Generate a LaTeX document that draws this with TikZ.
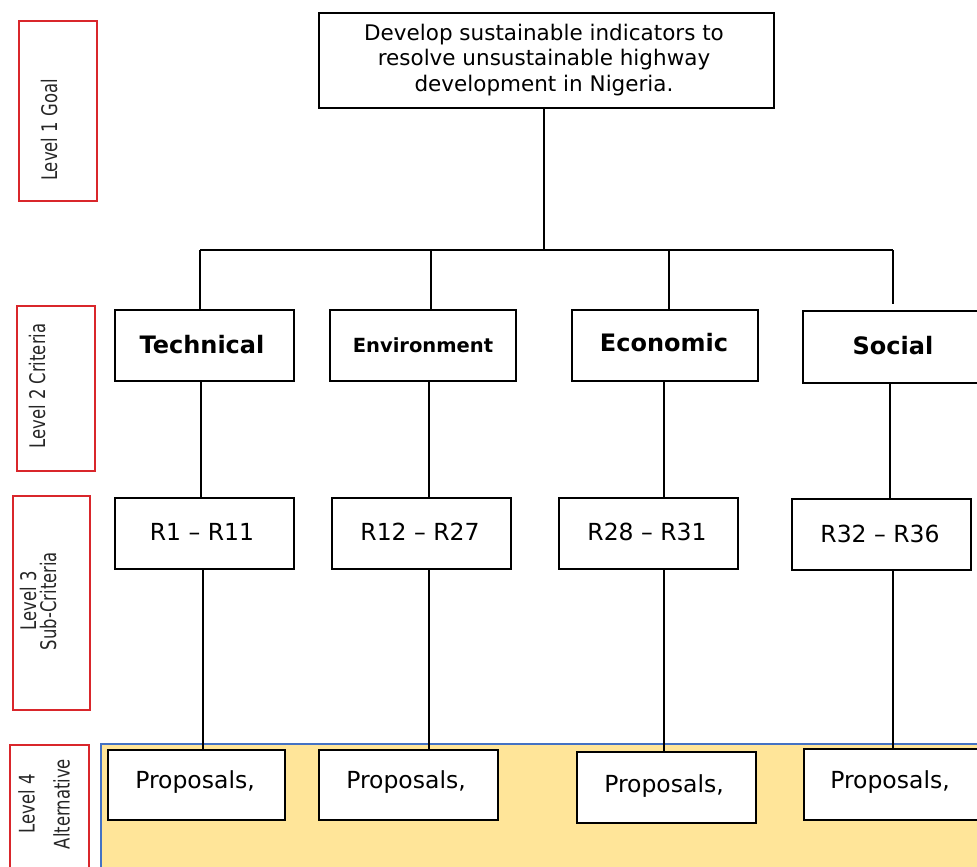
\documentclass[tikz,border=0pt]{standalone}
\usepackage{fontspec}
\setmainfont{DejaVu Sans}
\newfontfamily\condfont[FakeStretch=0.85]{DejaVu Sans Condensed}
\usetikzlibrary{positioning}
\definecolor{lvlred}{HTML}{D9262B}
\definecolor{altfill}{HTML}{FFE599}
\definecolor{altedge}{HTML}{4472C4}
\tikzset{
  box/.style={draw=black, line width=1.7pt, fill=white, inner sep=0pt, anchor=north west},
  levelbox/.style={draw=lvlred, line width=2pt, inner sep=0pt, anchor=north west},
  leveltext/.style={rotate=90, font=\condfont\fontsize{21.5}{20}\selectfont, align=center, text=black!85},
  link/.style={draw=black, line width=1.7pt},
  crit/.style={font=\bfseries\fontsize{24}{28}\selectfont},
  sub/.style={font=\fontsize{23.5}{28}\selectfont},
}
\begin{document}
\begin{tikzpicture}[x=1pt, y=-1pt]
\useasboundingbox (0,0) rectangle (977,867);

% alternatives band
\fill[altfill] (101,744) rectangle (980,870);
\draw[altedge, line width=1.5pt] (101,870) -- (101,744) -- (980,744);

% level labels
\node[levelbox, minimum width=78pt, minimum height=180pt] (L1) at (18,20) {};
\node[leveltext] at (49,130) {Level 1 Goal};
\node[levelbox, minimum width=78pt, minimum height=165pt] (L2) at (16,305) {};
\node[leveltext] at (37,386) {Level 2 Criteria};
\node[levelbox, minimum width=77pt, minimum height=214pt] (L3) at (12,495) {};
\node[leveltext, font=\condfont\fontsize{21.5}{20}\selectfont] at (38,601) {Level 3\\Sub-Criteria};
\node[levelbox, minimum width=79pt, minimum height=130pt] (L4) at (9,744) {};
\node[leveltext, font=\condfont\fontsize{21.5}{35}\selectfont] at (44,804) {Level 4\\Alternative};

% goal
\node[box, minimum width=455pt, minimum height=95pt] (goal) at (318,12) {};
\node[align=center, font=\fontsize{21.5}{25.5}\selectfont] at (544,60)
  {Develop sustainable indicators to\\resolve unsustainable highway\\development in Nigeria.};

% criteria
\node[box, minimum width=179pt, minimum height=71pt] (tech) at (114,309) {};
\node[crit] at (202,345) {Technical};
\node[box, minimum width=186pt, minimum height=71pt] (env) at (329,309) {};
\node[font=\bfseries\fontsize{19.5}{23}\selectfont] at (423,345) {Environment};
\node[box, minimum width=186pt, minimum height=71pt] (eco) at (571,309) {};
\node[crit] at (664,343) {Economic};
\node[box, minimum width=180pt, minimum height=72pt] (soc) at (802,310) {};
\node[crit] at (893,346) {Social};

% sub-criteria
\node[box, minimum width=179pt, minimum height=71pt] (r1) at (114,497) {};
\node[sub] at (202,532) {R1 -- R11};
\node[box, minimum width=179pt, minimum height=71pt] (r2) at (331,497) {};
\node[sub] at (420,532) {R12 -- R27};
\node[box, minimum width=179pt, minimum height=71pt] (r3) at (558,497) {};
\node[sub] at (647,532) {R28 -- R31};
\node[box, minimum width=179pt, minimum height=71pt] (r4) at (791,498) {};
\node[sub] at (880,534) {R32 -- R36};

% alternatives
\node[box, minimum width=177pt, minimum height=70pt] (p1) at (107,749) {};
\node[sub] at (195,782) {Proposals,};
\node[box, minimum width=179pt, minimum height=70pt] (p2) at (318,749) {};
\node[sub] at (406,782) {Proposals,};
\node[box, minimum width=179pt, minimum height=71pt] (p3) at (576,751) {};
\node[sub] at (664,786) {Proposals,};
\node[box, minimum width=180pt, minimum height=71pt] (p4) at (803,748) {};
\node[sub] at (890,782) {Proposals,};

% goal to criteria
\coordinate (hub) at (544,250);
\draw[link] (goal.south -| hub) -- (hub);
\draw[link] (hub -| 200,0) -- (hub -| 893,0);
\draw[link] (200,250) -- (200,309);
\draw[link] (431,250) -- (431,309);
\draw[link] (669,250) -- (669,309);
\draw[link] (893,250) -- (893,304);

% criteria to sub-criteria
\draw[link] (tech.south -| 201,0) -- (r1.north -| 201,0);
\draw[link] (env.south -| 429,0) -- (r2.north -| 429,0);
\draw[link] (eco.south -| 664,0) -- (r3.north -| 664,0);
\draw[link] (soc.south -| 890,0) -- (r4.north -| 890,0);

% sub-criteria to alternatives
\draw[link] (r1.south -| 203,0) -- (p1.north -| 203,0);
\draw[link] (r2.south -| 429,0) -- (p2.north -| 429,0);
\draw[link] (r3.south -| 664,0) -- (p3.north -| 664,0);
\draw[link] (r4.south -| 893,0) -- (p4.north -| 893,0);
\end{tikzpicture}
\end{document}
